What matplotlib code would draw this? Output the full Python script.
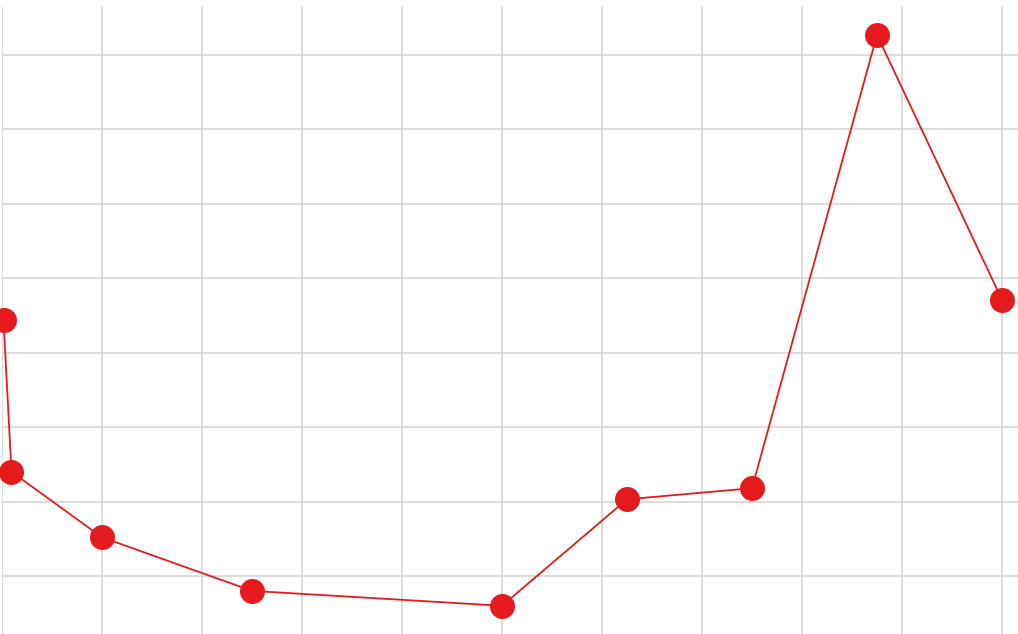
import numpy as np
import matplotlib.pyplot as plt

# values (grid step = 1 on both axes)
x_vals = [0.015, 0.095, 1.0, 2.5, 5.0, 6.25, 7.5, 8.75, 10.0]
y_vals = [3.44, 1.40, 0.52, -0.20, -0.40, 1.03, 1.18, 7.27, 3.71]
x_ticks = np.arange(0, 11, 1)
y_ticks = np.arange(0, 8, 1)

W, H = 1018, 634
fig = plt.figure(figsize=(W / 100, H / 100), dpi=100)
# axes fills the picture, top-left corner at px (2, 6)
ax = fig.add_axes([2 / W, 0, 1 - 2 / W, 1 - 6 / H])

ax.plot(x_vals, y_vals, color="#e41a1c", linewidth=1.3,
        marker="o", markersize=18, markeredgewidth=0, clip_on=False, zorder=3)

ax.set_xlim(0, (W - 2) / 100)
ax.set_ylim(-(H - 576) / 74.43, (576 - 6) / 74.43)
ax.set_xticks(x_ticks)
ax.set_yticks(y_ticks)
ax.grid(True, color="#dcdcdc", linewidth=1.5)
ax.tick_params(length=0, labelbottom=False, labelleft=False)
for s in ax.spines.values():
    s.set_visible(False)

fig.savefig("out.png", dpi=100)
